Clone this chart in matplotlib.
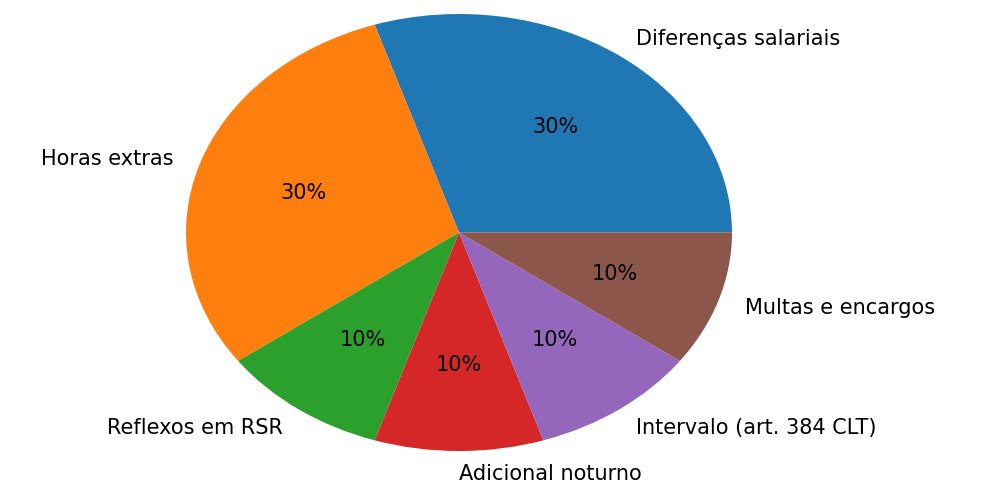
import matplotlib.pyplot as plt

# Distribuição dos pedidos (percentual)
labels = ['Diferenças salariais', 'Horas extras', 'Reflexos em RSR',
          'Adicional noturno', 'Intervalo (art. 384 CLT)', 'Multas e encargos']
values = [30, 30, 10, 10, 10, 10]

fig = plt.figure(figsize=(9.82, 4.85), dpi=100)
# pie is stretched horizontally in the reference, so no equal aspect
ax = fig.add_axes([186 / 982, 33 / 485, 546 / 982, 437 / 485])
ax.pie(values, labels=labels, autopct='%1.0f%%', frame=False,
       textprops={'fontsize': 15})
ax.set_aspect('auto')
ax.set_xlim(-1, 1)
ax.set_ylim(-1, 1)
ax.axis('off')

plt.savefig('out.png')
